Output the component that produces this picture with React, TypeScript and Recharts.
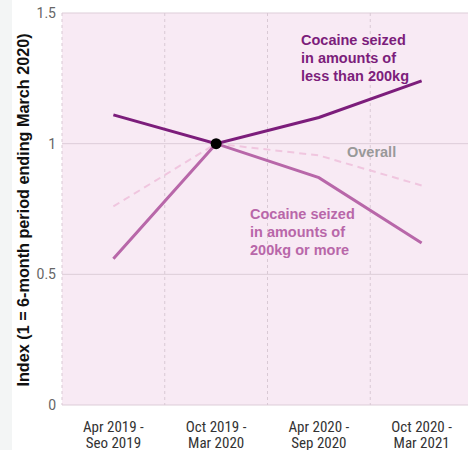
import { LineChart, Line, XAxis, YAxis, CartesianGrid, ReferenceDot } from "recharts";

const periodStart = ["Apr 2019 -", "Oct 2019 -", "Apr 2020 -", "Oct 2020 -"];
const periodEnd = ["Seo 2019", "Mar 2020", "Sep 2020", "Mar 2021"];
const lessThan200 = [1.11, 1.0, 1.1, 1.24];
const over200 = [0.56, 1.0, 0.87, 0.62];
const overall = [0.76, 1.0, 0.955, 0.84];
const yTicks = [0, 0.5, 1, 1.5];
const bandEdges = [-0.5, 0.5, 1.5, 2.5, 3.5];
const labelTicks = [0, 1, 2, 3];

const data = periodStart.map((p, i) => ({
  x: i,
  less: lessThan200[i],
  more: over200[i],
  overall: overall[i],
}));

const DARK = "#7c1d7b";
const LIGHT = "#b867a9";
const DASH = "#f0c6df";
const NARROW = "'Liberation Sans Narrow', 'Roboto Condensed', 'DejaVu Sans Condensed', sans-serif";
const BOLD = "'Liberation Sans', Arial, sans-serif";

function PeriodTick(props: any) {
  const { x, payload } = props;
  const i = payload.value;
  return (
    <text x={x} y={405} textAnchor="middle" fontFamily={NARROW} fontSize={15} fill="#333">
      <tspan x={x} dy={27}>{periodStart[i]}</tspan>
      <tspan x={x} dy={16}>{periodEnd[i]}</tspan>
    </text>
  );
}

export default function App() {
  return (
    <div style={{ position: "absolute", left: 0, top: 0, width: 468, height: 450, overflow: "hidden", background: "#fff" }}>
      <div style={{ position: "absolute", left: 0, top: 0, width: 12, height: 450, background: "#f3f5f5" }} />
      <LineChart width={480} height={450} data={data} margin={{ top: 13, right: 7, bottom: 0, left: 0 }}>
        <CartesianGrid xAxisId="edges" horizontal={true} vertical={false} stroke="#ddcdd8" fill="#f8eaf4" fillOpacity={1} />
        <CartesianGrid xAxisId="edges" horizontal={false} vertical={true} stroke="#d9c9d4" strokeDasharray="3 3" />
        <XAxis
          xAxisId="edges"
          dataKey="x"
          type="number"
          domain={[-0.5, 3.5]}
          ticks={bandEdges}
          height={0}
          stroke="#888"
          tickSize={6}
          tick={() => <g />}
        />
        <XAxis
          xAxisId="labels"
          dataKey="x"
          type="number"
          domain={[-0.5, 3.5]}
          ticks={labelTicks}
          height={45}
          axisLine={false}
          tickLine={false}
          tick={<PeriodTick />}
        />
        <YAxis
          domain={[0, 1.5]}
          ticks={yTicks}
          width={62}
          axisLine={false}
          tickLine={false}
          tickMargin={0}
          tick={{ fontFamily: "Roboto, sans-serif", fontSize: 14, fill: "#666" }}
        />
        <Line xAxisId="edges" dataKey="overall" stroke={DASH} strokeWidth={2} strokeDasharray="7 5" dot={false} isAnimationActive={false} type="linear" />
        <Line xAxisId="edges" dataKey="more" stroke={LIGHT} strokeWidth={3} dot={false} isAnimationActive={false} type="linear" />
        <Line xAxisId="edges" dataKey="less" stroke={DARK} strokeWidth={3} dot={false} isAnimationActive={false} type="linear" />
        <ReferenceDot xAxisId="edges" x={1} y={1} r={5.5} fill="#000" stroke="none" />
      </LineChart>
      <svg width={40} height={450} style={{ position: "absolute", left: 0, top: 0, pointerEvents: "none" }}>
        <text
          transform="translate(28.5,210) rotate(-90)"
          textAnchor="middle"
          fontFamily={BOLD}
          fontWeight={700}
          fontSize={16.2}
          fill="#111"
        >
          Index (1 = 6-month period ending March 2020)
        </text>
      </svg>
      <div style={{ position: "absolute", left: 301, top: 31, fontFamily: BOLD, fontWeight: 700, fontSize: 14.5, lineHeight: "18px", color: DARK }}>
        Cocaine seized<br />in amounts of<br />less than 200kg
      </div>
      <div style={{ position: "absolute", left: 347, top: 143, fontFamily: BOLD, fontWeight: 700, fontSize: 14.5, lineHeight: "18px", color: "#999" }}>
        Overall
      </div>
      <div style={{ position: "absolute", left: 250, top: 205, fontFamily: BOLD, fontWeight: 700, fontSize: 14.5, lineHeight: "18px", color: LIGHT }}>
        Cocaine seized<br />in amounts of<br />200kg or more
      </div>
    </div>
  );
}
